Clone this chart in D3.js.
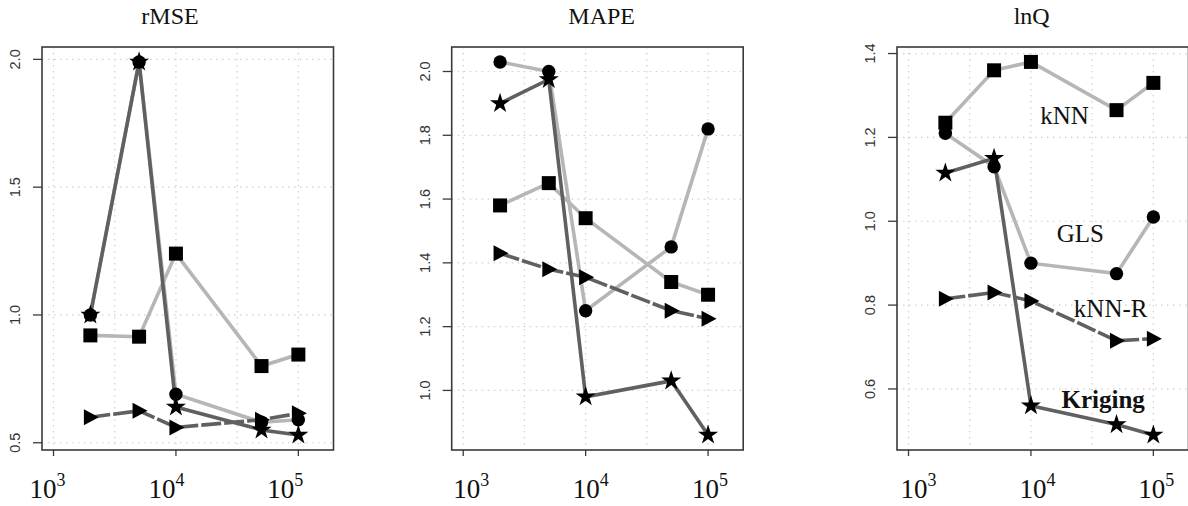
<!DOCTYPE html>
<html>
<meta charset="utf-8">
<style>
  body { margin: 0; background: #fff; }
  svg { display: block; }
</style>
<body>
<svg width="1188" height="506"></svg>
</body>
<script src="https://d3js.org/d3.v7.min.js"></script>
<script>

  // sample sizes (x axis, log scale)
  var sizes = [2000, 5000, 10000, 50000, 100000];
  var xTicks = [1e3, 1e4, 1e5];
  var xExp = ["3", "4", "5"];

  var metrics = ["rMSE", "MAPE", "lnQ"];

  // one array per method and metric
  var kNN_rMSE = [0.92, 0.915, 1.24, 0.80, 0.845];
  var GLS_rMSE = [1.00, 1.99, 0.69, 0.58, 0.59];
  var kNNR_rMSE = [0.60, 0.625, 0.56, 0.59, 0.615];
  var Krig_rMSE = [1.00, 1.99, 0.64, 0.55, 0.53];

  var kNN_MAPE = [1.58, 1.65, 1.54, 1.34, 1.30];
  var GLS_MAPE = [2.03, 2.00, 1.25, 1.45, 1.82];
  var kNNR_MAPE = [1.43, 1.38, 1.355, 1.25, 1.225];
  var Krig_MAPE = [1.90, 1.975, 0.98, 1.03, 0.86];

  var kNN_lnQ = [1.235, 1.36, 1.38, 1.265, 1.33];
  var GLS_lnQ = [1.21, 1.13, 0.90, 0.875, 1.01];
  var kNNR_lnQ = [0.815, 0.83, 0.81, 0.715, 0.72];
  var Krig_lnQ = [1.115, 1.15, 0.56, 0.515, 0.49];

  var yTicks_rMSE = [0.5, 1.0, 1.5, 2.0];
  var yTicks_MAPE = [1.0, 1.2, 1.4, 1.6, 1.8, 2.0];
  var yTicks_lnQ = [0.6, 0.8, 1.0, 1.2, 1.4];

  var methods = ["kNN", "GLS", "kNN-R", "Kriging"];

  var panels = [
    {title: metrics[0], series: [kNN_rMSE, GLS_rMSE, kNNR_rMSE, Krig_rMSE], ticks: yTicks_rMSE},
    {title: metrics[1], series: [kNN_MAPE, GLS_MAPE, kNNR_MAPE, Krig_MAPE], ticks: yTicks_MAPE},
    {title: metrics[2], series: [kNN_lnQ, GLS_lnQ, kNNR_lnQ, Krig_lnQ], ticks: yTicks_lnQ}
  ];

  // layout
  var lefts = [42, 451.7, 897];
  var titleX = [170, 601.7, 1031.7];
  var labShift = [[-6, -9.5, -13], [8, 5, 2], [10, 6.5, 3]];
  var pw = 291.5, plotTop = 47, plotBottom = 450;

  var light = "#b6b6b6", dark = "#606060";
  var styles = [
    {color: light, dash: null, marker: "square"},
    {color: light, dash: null, marker: "circle"},
    {color: dark, dash: "20,3", marker: "tri"},
    {color: dark, dash: null, marker: "star"}
  ];
  var lineOrder = [0, 1, 2, 3];
  var markOrder = [0, 3, 1, 2];

  var svg = d3.select("svg");
  var serif = "'Liberation Serif', 'Times New Roman', serif";
  var sans = "'Liberation Sans', Arial, Helvetica, sans-serif";

  panels.forEach(function(p, pi) {
    var x0 = lefts[pi];
    var g = svg.append("g");

    var x = d3.scaleLog()
      .domain([Math.pow(10, 2.906), Math.pow(10, 5.287)])
      .range([x0, x0 + pw]);

    // R-style 4% padding of the data range
    var all = [].concat.apply([], p.series);
    var mn = d3.min(all), mx = d3.max(all), pad = (mx - mn) * 0.04;
    var y = d3.scaleLinear().domain([mn - pad, mx + pad]).range([plotBottom, plotTop]);

    // grid
    var gx = [3, 3.5, 4, 4.5, 5];
    g.selectAll(".vg").data(gx).enter().append("line")
      .attr("x1", function(d) { return x(Math.pow(10, d)); })
      .attr("x2", function(d) { return x(Math.pow(10, d)); })
      .attr("y1", plotTop).attr("y2", plotBottom)
      .attr("stroke", "#cfcfcf").attr("stroke-width", 1.2).attr("stroke-dasharray", "1.5,4.5");
    g.selectAll(".hg").data(p.ticks).enter().append("line")
      .attr("x1", x0).attr("x2", x0 + pw)
      .attr("y1", function(d) { return y(d); })
      .attr("y2", function(d) { return y(d); })
      .attr("stroke", "#cfcfcf").attr("stroke-width", 1.2).attr("stroke-dasharray", "1.5,4.5");

    var pointsOf = function(si) {
      return sizes.map(function(s, i) { return [s, p.series[si][i]]; });
    };

    // series lines
    lineOrder.forEach(function(si) {
      var st = styles[si];
      g.append("path")
        .datum(pointsOf(si))
        .attr("fill", "none")
        .attr("stroke", st.color)
        .attr("stroke-width", 3.6)
        .attr("stroke-dasharray", st.dash)
        .attr("d", d3.line().x(function(d) { return x(d[0]); }).y(function(d) { return y(d[1]); }));
    });

    // markers
    markOrder.forEach(function(si) {
      var st = styles[si];
      var mk = g.selectAll(".m" + si).data(pointsOf(si)).enter().append("path")
        .attr("fill", "#000")
        .attr("transform", function(d) { return "translate(" + x(d[0]) + "," + y(d[1]) + ")"; });
      if (st.marker == "circle") mk.attr("d", d3.symbol().type(d3.symbolCircle).size(Math.PI * 6.7 * 6.7));
      if (st.marker == "square") mk.attr("d", d3.symbol().type(d3.symbolSquare).size(14 * 14));
      if (st.marker == "star") mk.attr("d", d3.symbol().type(d3.symbolStar).size(125));
      if (st.marker == "tri") mk.attr("d", "M-6.5,-8L8.5,0L-6.5,8Z");
    });

    // box
    g.append("rect")
      .attr("x", x0).attr("y", plotTop).attr("width", pw).attr("height", plotBottom - plotTop)
      .attr("fill", "none").attr("stroke", "#3a3a3a").attr("stroke-width", 1.6);

    // y axis ticks + labels
    g.selectAll(".yt").data(p.ticks).enter().append("line")
      .attr("x1", x0 - 9).attr("x2", x0)
      .attr("y1", function(d) { return y(d); })
      .attr("y2", function(d) { return y(d); })
      .attr("stroke", "#3a3a3a").attr("stroke-width", 1.3);
    g.selectAll(".yl").data(p.ticks).enter().append("text")
      .attr("transform", function(d) { return "translate(" + (x0 - 22) + "," + y(d) + ") rotate(-90)"; })
      .attr("text-anchor", "middle")
      .attr("font-family", sans).attr("font-size", 14.5).attr("fill", "#333")
      .text(function(d) { return d3.format(".1f")(d); });

    // x axis ticks + labels
    g.selectAll(".xt").data(xTicks).enter().append("line")
      .attr("x1", function(d) { return x(d); })
      .attr("x2", function(d) { return x(d); })
      .attr("y1", plotBottom).attr("y2", plotBottom + 6)
      .attr("stroke", "#3a3a3a").attr("stroke-width", 1.3);
    var xl = g.selectAll(".xl").data(xTicks).enter().append("text")
      .attr("x", function(d, i) { return x(d) + labShift[pi][i]; })
      .attr("y", 498)
      .attr("text-anchor", "middle")
      .attr("font-family", serif).attr("font-size", 27).attr("fill", "#111");
    xl.append("tspan").text("10");
    xl.append("tspan").attr("dy", -12).attr("font-size", 18).text(function(d, i) { return xExp[i]; });

    // title
    svg.append("text")
      .attr("x", titleX[pi]).attr("y", 24)
      .attr("text-anchor", "middle")
      .attr("font-family", serif).attr("font-size", 24).attr("fill", "#111")
      .text(p.title);

    // method labels on the last panel
    if (pi == 2) {
      var labs = [
        {t: methods[0], lx: 4.274, ly: 1.232, w: "normal"},
        {t: methods[1], lx: 4.403, ly: 0.951, w: "normal"},
        {t: methods[2], lx: 4.651, ly: 0.772, w: "normal"},
        {t: methods[3], lx: 4.59, ly: 0.554, w: "bold"}
      ];
      g.selectAll(".lab").data(labs).enter().append("text")
        .attr("x", function(d) { return x(Math.pow(10, d.lx)); })
        .attr("y", function(d) { return y(d.ly); })
        .attr("text-anchor", "middle")
        .attr("font-family", serif).attr("font-size", 25).attr("font-weight", function(d) { return d.w; })
        .attr("fill", "#111")
        .text(function(d) { return d.t; });
    }
  });

</script>
</html>
